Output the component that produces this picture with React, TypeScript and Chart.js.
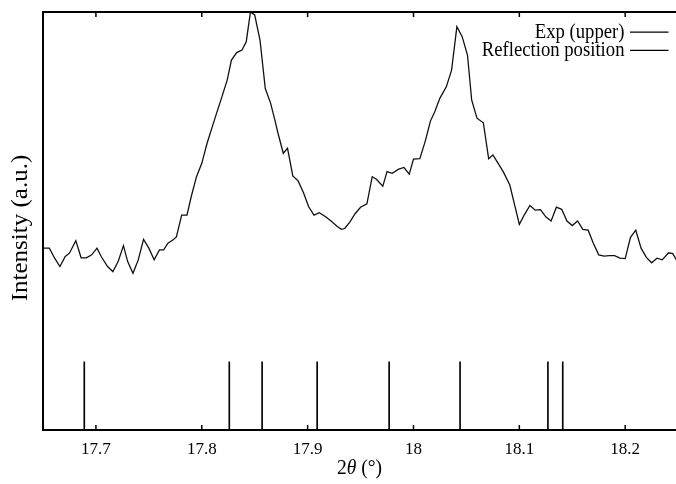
import React, { useEffect, useRef } from "react";
import { Chart, registerables } from "chart.js";

Chart.register(...registerables);

// 2θ (degrees) of the measured profile
const twoTheta = [
  17.651, 17.656, 17.661, 17.666, 17.671, 17.675, 17.681, 17.686, 17.691, 17.696,
  17.701, 17.705, 17.711, 17.716, 17.721, 17.726, 17.730, 17.735, 17.740, 17.745,
  17.750, 17.755, 17.760, 17.764, 17.768, 17.773, 17.776, 17.781, 17.786, 17.790,
  17.795, 17.800, 17.805, 17.809, 17.814, 17.819, 17.824, 17.828, 17.833, 17.838,
  17.842, 17.846, 17.850, 17.855, 17.860, 17.865, 17.869, 17.872, 17.877, 17.881,
  17.886, 17.891, 17.896, 17.901, 17.906, 17.911, 17.917, 17.923, 17.928, 17.932,
  17.935, 17.940, 17.945, 17.950, 17.956, 17.961, 17.965, 17.971, 17.975, 17.980,
  17.986, 17.991, 17.996, 18.000, 18.006, 18.011, 18.016, 18.020, 18.025, 18.031,
  18.036, 18.041, 18.046, 18.051, 18.055, 18.060, 18.066, 18.071, 18.075, 18.080,
  18.085, 18.091, 18.096, 18.100, 18.105, 18.110, 18.115, 18.120, 18.125, 18.130,
  18.135, 18.140, 18.145, 18.150, 18.155, 18.160, 18.165, 18.170, 18.175, 18.180,
  18.185, 18.190, 18.195, 18.200, 18.205, 18.210, 18.215, 18.220, 18.225, 18.230,
  18.235, 18.241, 18.245, 18.249,
];

// Intensity (a.u.) of "Exp (upper)"
const intensity = [
  43.5, 43.5, 41.1, 39.1, 41.5, 42.3, 45.3, 41.2, 41.2, 41.9,
  43.5, 41.5, 39.1, 37.9, 40.3, 44.1, 40.3, 37.5, 40.7, 45.6,
  43.5, 40.7, 43.1, 43.1, 44.7, 45.5, 46.2, 51.4, 51.4, 55.8,
  60.6, 63.8, 68.6, 71.8, 75.8, 79.7, 83.7, 88.5, 90.3, 90.9,
  92.9, 100, 99.3, 93.3, 81.7, 78.2, 74.2, 71.0, 66.2, 67.4,
  60.8, 59.6, 56.8, 53.4, 51.4, 52.0, 51.0, 49.8, 48.7, 48.0,
  48.2, 49.8, 51.8, 53.3, 54.1, 60.6, 60.0, 58.3, 61.8, 61.4,
  62.4, 62.8, 61.2, 64.8, 64.9, 69.0, 73.9, 76.1, 79.4, 82.1,
  86.1, 96.5, 94.1, 89.7, 78.9, 74.6, 73.5, 64.9, 65.8, 63.8,
  61.7, 58.6, 53.4, 49.2, 51.6, 53.7, 52.6, 52.7, 51.0, 50.0,
  53.3, 52.8, 50.0, 48.9, 50.0, 48.0, 47.8, 44.6, 41.9, 41.6,
  41.7, 41.7, 41.1, 41.0, 46.1, 47.8, 43.5, 41.3, 40.0, 41.1,
  40.7, 42.4, 42.2, 40.4,
];

// Reflection positions (2θ) and their marker height (a.u.)
const reflectionPositions = [17.689, 17.826, 17.857, 17.909, 17.977, 18.044, 18.127, 18.141];
const reflectionHeights = [16.3, 16.3, 16.3, 16.3, 16.3, 16.3, 16.3, 16.3];

const xTickValues = [17.7, 17.8, 17.9, 18.0, 18.1, 18.2];
const xTickLabels = ["17.7", "17.8", "17.9", "18", "18.1", "18.2"];
const legendLabels = ["Exp (upper)", "Reflection position"];
const xTitleParts = ["2", "θ", " (°)"];
const yTitle = "Intensity (a.u.)";

const X_MIN = 17.65;
const X_MAX = 18.248;
const SERIF = "'Liberation Serif', 'DejaVu Serif', serif";
const SQ = 0.89;

const decorPlugin = {
  id: "decor",
  afterDraw(chart: any) {
    const ctx = chart.ctx as CanvasRenderingContext2D;
    const area = chart.chartArea;
    const xs = chart.scales.x;
    ctx.save();
    ctx.strokeStyle = "#000";
    ctx.fillStyle = "#000";
    // top border
    ctx.lineWidth = 2;
    ctx.beginPath();
    ctx.moveTo(area.left - 1, area.top);
    ctx.lineTo(area.right, area.top);
    ctx.stroke();
    // inward tick marks on bottom and top
    ctx.lineWidth = 1.5;
    xTickValues.forEach((v) => {
      const px = xs.getPixelForValue(v);
      ctx.beginPath();
      ctx.moveTo(px, area.bottom);
      ctx.lineTo(px, area.bottom - 5);
      ctx.moveTo(px, area.top);
      ctx.lineTo(px, area.top + 5);
      ctx.stroke();
    });

    // legend
    const legendRight = 624.5;
    const legendYs = [31.7, 49.8];
    legendLabels.forEach((label, i) => {
      ctx.save();
      ctx.translate(legendRight, legendYs[i]);
      ctx.scale(SQ, 1);
      ctx.font = `21px ${SERIF}`;
      ctx.textAlign = "right";
      ctx.textBaseline = "middle";
      ctx.fillText(label, 0, 1);
      ctx.restore();
      ctx.lineWidth = 1.3;
      ctx.beginPath();
      ctx.moveTo(630, legendYs[i] + 0.5);
      ctx.lineTo(668.5, legendYs[i] + 0.5);
      ctx.stroke();
    });

    // x title: 2θ (°)
    const fonts = [`22px ${SERIF}`, `italic 22px ${SERIF}`, `22px ${SERIF}`];
    const widths = xTitleParts.map((t, i) => {
      ctx.font = fonts[i];
      return ctx.measureText(t).width * SQ;
    });
    const total = widths.reduce((a, b) => a + b, 0);
    let cx = (area.left + area.right) / 2 - total / 2;
    const ty = 468;
    xTitleParts.forEach((t, i) => {
      ctx.save();
      ctx.translate(cx, ty);
      ctx.scale(SQ, 1);
      ctx.font = fonts[i];
      ctx.textAlign = "left";
      ctx.textBaseline = "middle";
      ctx.fillText(t, 0, 0);
      ctx.restore();
      cx += widths[i];
    });

    // y title
    ctx.save();
    ctx.translate(21, 228);
    ctx.rotate(-Math.PI / 2);
    ctx.scale(1, SQ);
    ctx.font = `25px ${SERIF}`;
    ctx.textAlign = "center";
    ctx.textBaseline = "middle";
    ctx.fillText(yTitle, 0, 0);
    ctx.restore();

    ctx.restore();
  },
};

export default function App() {
  const canvasRef = useRef<HTMLCanvasElement | null>(null);

  useEffect(() => {
    if (!canvasRef.current) return;
    const expData = twoTheta.map((x, i) => ({ x, y: intensity[i] }));
    const reflData = reflectionPositions.map((x, i) => ({ x, y: reflectionHeights[i] }));
    const chart = new Chart(canvasRef.current, {
      type: "line",
      data: {
        datasets: [
          {
            type: "line",
            label: legendLabels[0],
            data: expData,
            borderColor: "#111",
            borderWidth: 1.3,
            pointRadius: 0,
            tension: 0,
            fill: false,
            clip: false as any,
          },
          {
            type: "bar",
            label: legendLabels[1],
            data: reflData as any,
            backgroundColor: "#000",
            borderWidth: 0,
            barThickness: 1,
          } as any,
        ],
      },
      options: {
        responsive: false,
        animation: false,
        events: [],
        layout: { padding: { top: 12, left: 0, right: 0, bottom: 0 } },
        plugins: {
          legend: { display: false },
          tooltip: { enabled: false },
          title: { display: false },
        },
        scales: {
          x: {
            type: "linear",
            min: X_MIN,
            max: X_MAX,
            offset: false,
            grid: { display: false, drawTicks: false },
            border: { display: true, color: "#000", width: 2 },
            afterBuildTicks: (scale: any) => {
              scale.ticks = xTickValues.map((v) => ({ value: v }));
            },
            afterFit: (scale: any) => {
              scale.height = 54;
            },
            ticks: {
              color: "#000",
              padding: 9,
              maxRotation: 0,
              autoSkip: false,
              font: { family: SERIF, size: 17 },
              callback: (v: any) => {
                const idx = xTickValues.findIndex((t) => Math.abs(t - Number(v)) < 1e-6);
                return idx >= 0 ? xTickLabels[idx] : "";
              },
            },
          },
          y: {
            type: "linear",
            min: 0,
            max: 100,
            grid: { display: false, drawTicks: false },
            border: { display: true, color: "#000", width: 2 },
            ticks: { display: false },
            afterFit: (scale: any) => {
              scale.width = 43;
            },
          },
        },
      },
      plugins: [decorPlugin],
    });
    return () => chart.destroy();
  }, []);

  return (
    <div style={{ position: "fixed", left: 0, top: 0, width: 676, height: 484, background: "#fff" }}>
      <canvas ref={canvasRef} width={676} height={484} style={{ display: "block" }} />
    </div>
  );
}
